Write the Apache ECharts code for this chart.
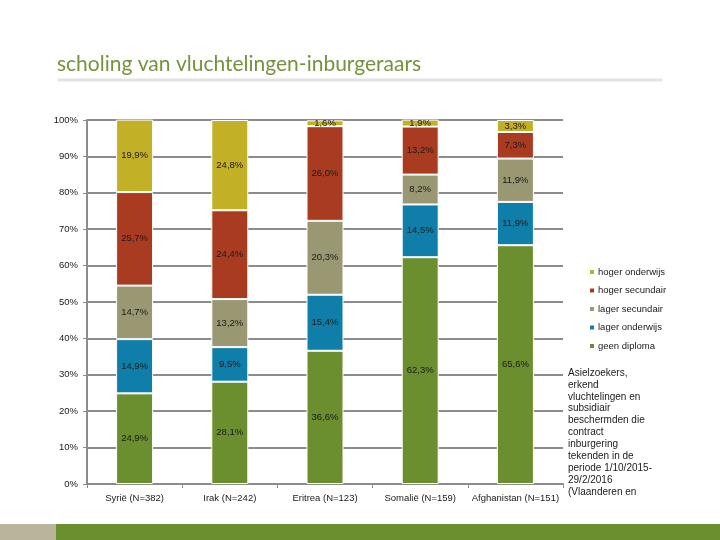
<!DOCTYPE html>
<html><head><meta charset="utf-8">
<script src="https://cdn.jsdelivr.net/npm/echarts@6/dist/echarts.min.js"></script>
<style>html,body{margin:0;padding:0;background:#fff}#c{width:720px;height:540px}</style>
</head><body><div id="c"></div>
<script>
const categories = ['Syrië (N=382)', 'Irak (N=242)', 'Eritrea (N=123)', 'Somalië (N=159)', 'Afghanistan (N=151)'];
const geenDiploma = [24.9, 28.1, 36.6, 62.3, 65.6];
const lagerOnderwijs = [14.9, 9.5, 15.4, 14.5, 11.9];
const lagerSecundair = [14.7, 13.2, 20.3, 8.2, 11.9];
const hogerSecundair = [25.7, 24.4, 26.0, 13.2, 7.3];
const hogerOnderwijs = [19.9, 24.8, 1.6, 1.9, 3.3];
const seriesNames = ['geen diploma', 'lager onderwijs', 'lager secundair', 'hoger secundair', 'hoger onderwijs'];
const colors = ['#6b8e2f', '#0f7fa9', '#9a9872', '#a93c20', '#c2b026'];
const noteLines = ['Asielzoekers,', 'erkend', 'vluchtelingen en', 'subsidiair', 'beschermden die', 'contract', 'inburgering', 'tekenden in de', 'periode 1/10/2015-', '29/2/2016', '(Vlaanderen en'];

const allData = [geenDiploma, lagerOnderwijs, lagerSecundair, hogerSecundair, hogerOnderwijs];
const chart = echarts.init(document.getElementById('c'));
const series = seriesNames.map((n, i) => ({
  name: n, type: 'bar', stack: 'tot', data: allData[i], barWidth: 37,
  itemStyle: { color: colors[i], borderColor: '#fff', borderWidth: 1 },
  label: { show: true, position: 'inside', color: '#1a1a1a', fontSize: 9.5, fontFamily: 'Liberation Sans',
    formatter: p => p.value.toFixed(1).replace('.', ',') + '%' }
}));
const graphics = [
  { type: 'text', left: 57, top: 54, style: { text: 'scholing van vluchtelingen-inburgeraars', fill: '#76923c', font: '21px Lato' } },
  { type: 'rect', shape: { x: 58, y: 78.5, width: 604, height: 3 }, style: { fill: '#e2e2e2' } },
  { type: 'rect', shape: { x: 0, y: 524, width: 56, height: 16 }, style: { fill: '#b8b59a' } },
  { type: 'rect', shape: { x: 56, y: 524, width: 664, height: 16 }, style: { fill: '#6b8e2f' } }
];
noteLines.forEach((t, i) => graphics.push({ type: 'text', left: 568, top: 368 + i * 11.9,
  style: { text: t, fill: '#1a1a1a', font: '10px "Liberation Sans"' } }));
chart.setOption({
  animation: false,
  color: colors,
  grid: { left: 87, right: 157, top: 120, bottom: 56 },
  legend: {
    orient: 'vertical', left: 583, top: 262, itemWidth: 6, itemHeight: 6, itemGap: 8.5,
    data: ['hoger onderwijs', 'hoger secundair', 'lager secundair', 'lager onderwijs', 'geen diploma'],
    textStyle: { fontSize: 9.5, color: '#1a1a1a', fontFamily: 'Liberation Sans', padding: [0, 0, 0, -2] },
    icon: 'rect'
  },
  xAxis: {
    type: 'category', data: categories,
    axisLine: { lineStyle: { color: '#8c8c8c', width: 2 } },
    axisTick: { show: true, length: 4, lineStyle: { color: '#8c8c8c' } },
    axisLabel: { interval: 0, color: '#1a1a1a', fontSize: 9.5, fontFamily: 'Liberation Sans', margin: 9 }
  },
  yAxis: {
    type: 'value', min: 0, max: 100, interval: 10,
    axisLine: { show: true, lineStyle: { color: '#8c8c8c', width: 2 } },
    axisTick: { show: true, length: 4, lineStyle: { color: '#8c8c8c' } },
    splitLine: { lineStyle: { color: '#8c8c8c', width: 2 } },
    axisLabel: { formatter: '{value}%', color: '#1a1a1a', fontSize: 9.5, fontFamily: 'Liberation Sans', margin: 9 }
  },
  series: series,
  graphic: graphics
});
</script></body></html>
